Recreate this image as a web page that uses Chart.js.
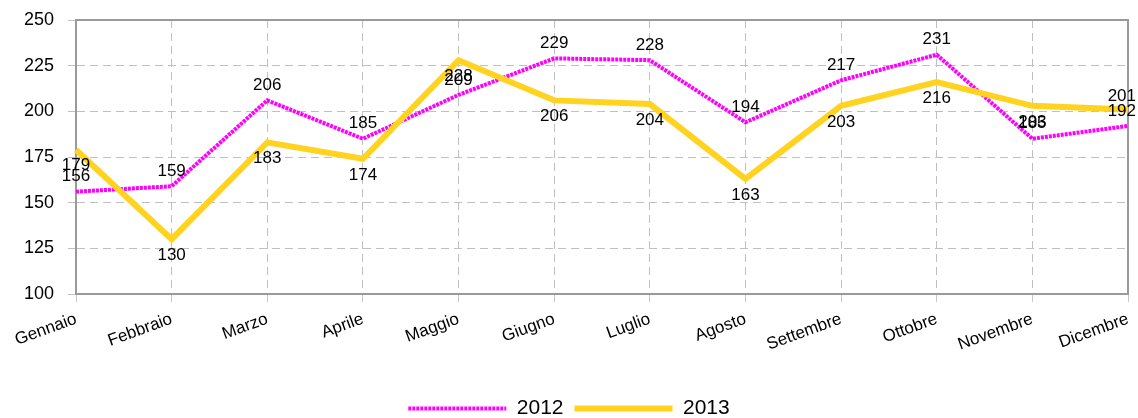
<!DOCTYPE html>
<html>
<head>
<meta charset="utf-8">
<script src="https://cdn.jsdelivr.net/npm/chart.js@4"></script>
<style>
  html, body { margin: 0; padding: 0; background: #fff; }
  #wrap { width: 1138px; height: 418px; }
</style>
</head>
<body>
<div id="wrap"><canvas id="c" width="1138" height="418"></canvas></div>
<script>
const months = ["Gennaio","Febbraio","Marzo","Aprile","Maggio","Giugno","Luglio","Agosto","Settembre","Ottobre","Novembre","Dicembre"];
const values2012 = [156,159,206,185,209,229,228,194,217,231,185,192];
const values2013 = [179,130,183,174,228,206,204,163,203,216,203,201];
const yTicks = [100,125,150,175,200,225,250];
const seriesNames = ["2012","2013"];

const FONT = "'Liberation Sans', Arial, sans-serif";

const frame = {
  id: 'frame',
  beforeDatasetsDraw(chart) {
    const a = chart.chartArea, ctx = chart.ctx;
    ctx.save();
    ctx.strokeStyle = '#9a9a9a';
    ctx.lineWidth = 2;
    ctx.beginPath();
    ctx.moveTo(a.left, a.top); ctx.lineTo(a.right, a.top); ctx.lineTo(a.right, a.bottom);
    ctx.stroke();
    ctx.restore();
  }
};

const dataLabels = {
  id: 'dataLabels',
  afterDatasetsDraw(chart) {
    const ctx = chart.ctx;
    ctx.save();
    ctx.font = '17px ' + FONT;
    ctx.fillStyle = '#000';
    ctx.textAlign = 'center';
    ctx.textBaseline = 'middle';
    chart.data.datasets.forEach((ds, di) => {
      const meta = chart.getDatasetMeta(di);
      meta.data.forEach((pt, i) => {
        const txt = String(ds.data[i]);
        const w = ctx.measureText(txt).width;
        let x = Math.min(Math.max(pt.x, w / 2 + 2), chart.width - w / 2 - 2);
        const last = i === ds.data.length - 1;
        let y;
        if (di === 0) y = pt.y - 15;
        else y = last ? pt.y - 13 : pt.y + 16;
        ctx.fillText(txt, x, y);
      });
    });
    ctx.restore();
  }
};

new Chart(document.getElementById('c'), {
  type: 'line',
  data: {
    labels: months,
    datasets: [
      { label: seriesNames[0], data: values2012, borderColor: '#ff00ff', backgroundColor: '#ff00ff',
        borderWidth: 4, borderDash: [3, 1], pointRadius: 0, tension: 0, order: 1 },
      { label: seriesNames[1], data: values2013, borderColor: '#ffd320', backgroundColor: '#ffd320',
        borderWidth: 6, pointRadius: 0, tension: 0, order: 0 }
    ]
  },
  options: {
    responsive: false,
    animation: false,
    layout: { padding: { top: 20, right: 10, left: 10, bottom: -11 } },
    plugins: {
      tooltip: { enabled: false },
      legend: {
        position: 'bottom',
        labels: {
          usePointStyle: true,
          pointStyleWidth: 98,
          padding: 11,
          color: '#000',
          font: { family: FONT, size: 21 },
          generateLabels(chart) {
            return chart.data.datasets.map((ds, i) => ({
              text: ds.label,
              fillStyle: ds.borderColor,
              strokeStyle: ds.borderColor,
              lineWidth: ds.borderWidth,
              lineDash: ds.borderDash || [],
              lineCap: 'butt',
              pointStyle: 'line',
              hidden: false,
              datasetIndex: i,
              fontColor: '#000'
            }));
          }
        }
      }
    },
    scales: {
      x: {
        offset: false,
        grid: { color: '#c0c0c0', lineWidth: 1, tickLength: 8, tickColor: '#c8c8c8', tickBorderDash: [] },
        border: { display: true, color: '#9a9a9a', width: 2, dash: [8, 5] },
        ticks: { color: '#000', font: { family: FONT, size: 17 }, minRotation: 20, maxRotation: 20, padding: 7, autoSkip: false },
        afterFit(s) { s.height = 93; s.paddingLeft = 0; s.paddingRight = 0; }
      },
      y: {
        min: 100, max: 250,
        afterBuildTicks(s) { s.ticks = yTicks.map(v => ({ value: v })); },
        grid: { color: '#c0c0c0', lineWidth: 1, tickLength: 8, tickColor: '#c0c0c0', tickBorderDash: [8, 5] },
        border: { display: true, color: '#9a9a9a', width: 2, dash: [8, 5] },
        ticks: { color: '#000', font: { family: FONT, size: 18 }, padding: 14 },
        afterFit(s) { s.width = 66; s.paddingTop = 0; s.paddingBottom = 0; }
      }
    }
  },
  plugins: [frame, dataLabels]
});
</script>
</body>
</html>
